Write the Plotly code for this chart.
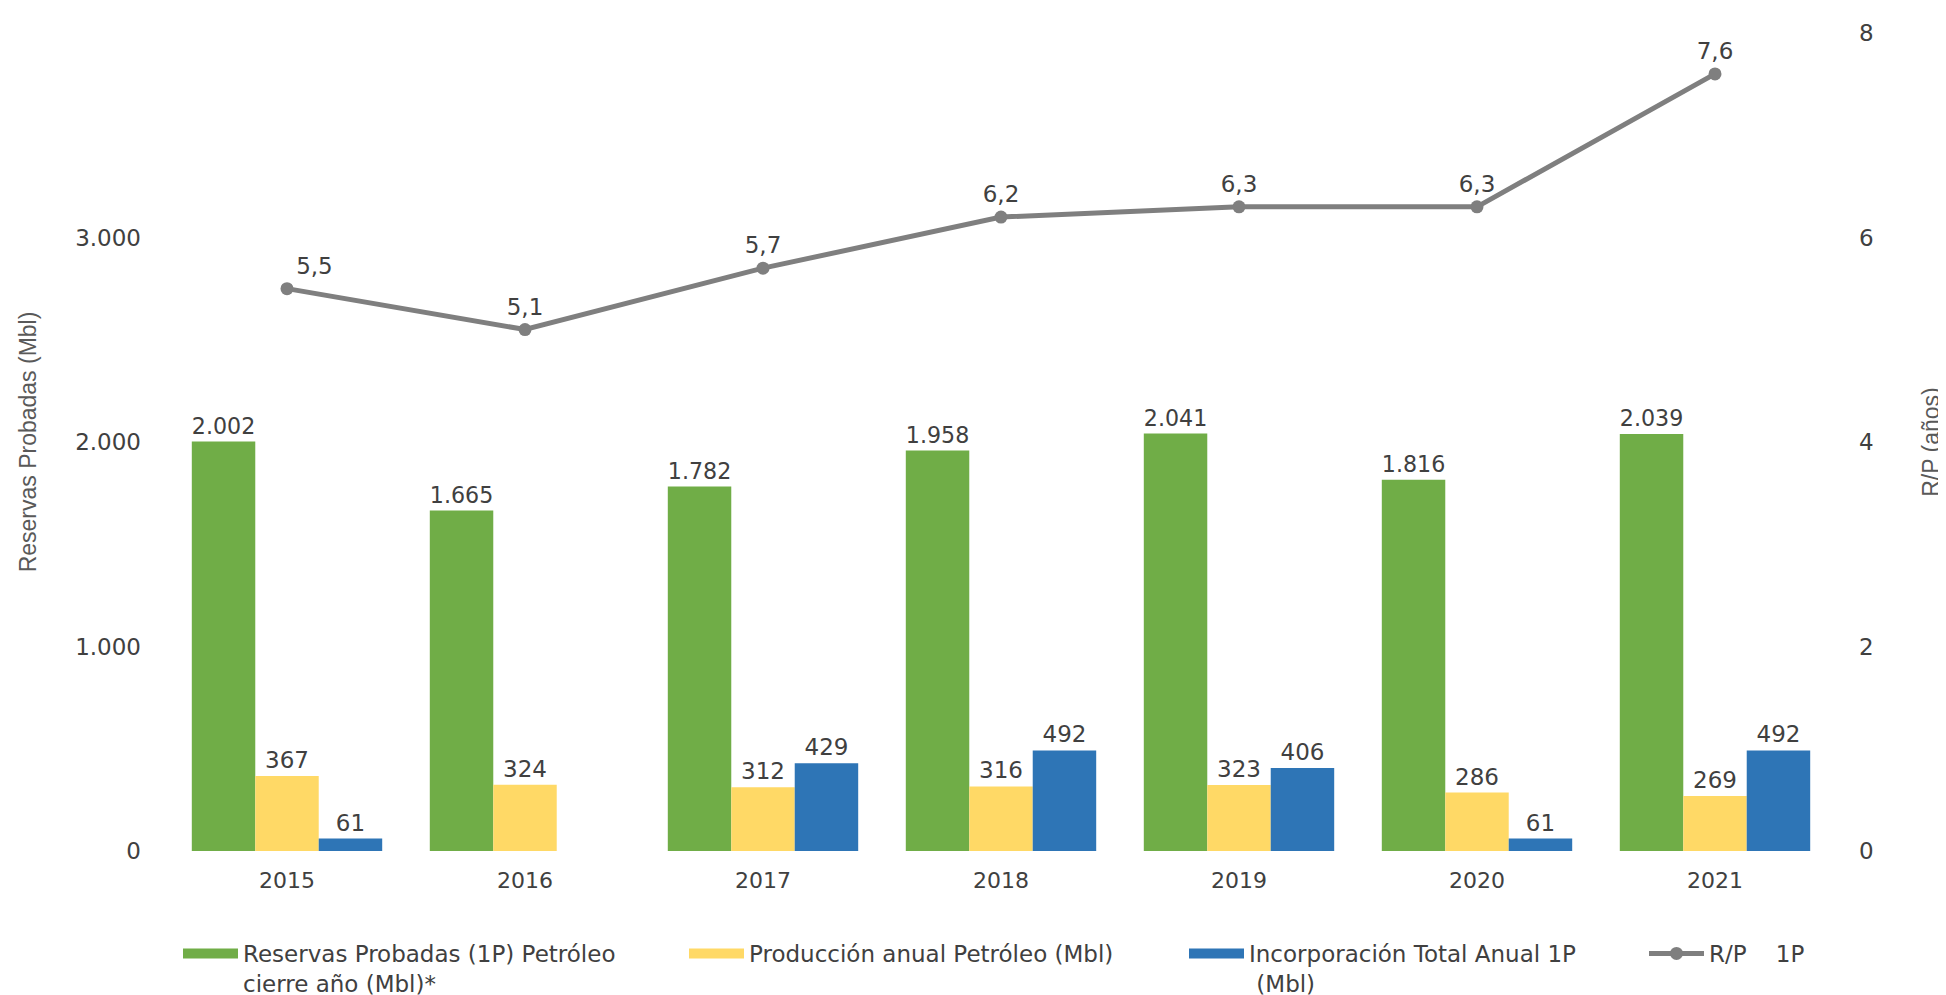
import plotly.graph_objects as go

# Datos (Mbl y años)
anios = ['2015', '2016', '2017', '2018', '2019', '2020', '2021']
reservas_1p = [2002, 1665, 1782, 1958, 2041, 1816, 2039]
produccion = [367, 324, 312, 316, 323, 286, 269]
incorporacion = [61, None, 429, 492, 406, 61, 492]
rp_1p = [5.5, 5.1, 5.7, 6.2, 6.3, 6.3, 7.6]

ticks_izq = [0, 1000, 2000, 3000]

nombres = [
    'Reservas Probadas (1P) Petróleo<br>cierre año (Mbl)*',
    'Producción anual Petróleo (Mbl)',
    'Incorporación Total Anual 1P<br>\u00a0(Mbl)',
    'R/P\u00a0\u00a0\u00a0\u00a01P',
]
colores = ['#70AD47', '#FFD966', '#2E75B6', '#7F7F7F']
leyendas = ['legend', 'legend2', 'legend3', 'legend4']
x_leyendas = [170, 676, 1176, 1636]  # px desde la izquierda

fuente = 'DejaVu Sans, Verdana, sans-serif'
fuente_titulo = 'Liberation Sans, Arial, sans-serif'
texto_color = '#404040'
tam = 23

fig = go.Figure()

for valores, nombre, color in zip([reservas_1p, produccion, incorporacion], nombres[:3], colores[:3]):
    fig.add_trace(go.Bar(
        x=anios,
        y=valores,
        name=nombre,
        marker=dict(color=color, line=dict(width=0)),
        texttemplate='%{y:,}',
        textposition='outside',
        textfont=dict(family=fuente, size=tam, color=texto_color),
        cliponaxis=False,
        showlegend=False,
        yaxis='y',
    ))

# posicion de etiquetas de la linea (la primera desplazada a la derecha)
pos_texto = ['top right'] + ['top center'] * (len(anios) - 1)

fig.add_trace(go.Scatter(
    x=anios,
    y=rp_1p,
    name=nombres[3],
    mode='lines+markers+text',
    line=dict(color=colores[3], width=5),
    marker=dict(color=colores[3], size=13),
    texttemplate='%{y:.1f}',
    textposition=pos_texto,
    textfont=dict(family=fuente, size=tam, color=texto_color),
    cliponaxis=False,
    showlegend=False,
    yaxis='y2',
))

# entradas de leyenda (rectangulos anchos como en el original)
for i in range(3):
    fig.add_trace(go.Scatter(
        x=[None], y=[None], mode='lines', name=nombres[i],
        line=dict(color=colores[i], width=10),
        legend=leyendas[i], hoverinfo='skip',
    ))
fig.add_trace(go.Scatter(
    x=[None], y=[None], mode='lines+markers', name=nombres[3],
    line=dict(color=colores[3], width=5),
    marker=dict(color=colores[3], size=13),
    legend=leyendas[3], hoverinfo='skip', yaxis='y2',
))

fig.update_layout(
    width=1946,
    height=995,
    separators=',.',
    barmode='group',
    bargap=0.2,
    bargroupgap=0,
    plot_bgcolor='white',
    paper_bgcolor='white',
    font=dict(family=fuente, size=tam, color=texto_color),
    margin=dict(l=160, r=120, t=23, b=152),
    xaxis=dict(
        showgrid=False, showline=False, zeroline=False,
        tickfont=dict(size=tam - 1, color=texto_color),
        ticklabelstandoff=14,
    ),
    yaxis=dict(
        range=[0, 4000],
        tickvals=ticks_izq,
        tickformat=',',
        showgrid=False, showline=False, zeroline=False,
        tickfont=dict(size=tam, color=texto_color),
        ticklabelstandoff=26,
        title=dict(text='Reservas Probadas (Mbl)',
                   font=dict(family=fuente_titulo, size=23, color='#595959'),
                   standoff=32),
    ),
    yaxis2=dict(
        range=[0, 8],
        dtick=2,
        overlaying='y',
        side='right',
        showgrid=False, showline=False, zeroline=False,
        tickfont=dict(size=tam, color=texto_color),
        ticklabelstandoff=24,
        title=dict(text='R/P (años)',
                   font=dict(family=fuente_titulo, size=23, color='#595959'),
                   standoff=50),
    ),
)

for ley, xl in zip(leyendas, x_leyendas):
    fig.update_layout({ley: dict(
        orientation='h',
        xref='container', yref='container',
        x=xl / 1946, xanchor='left',
        y=1 - 924 / 995, yanchor='top',
        itemwidth=55,
        valign='top',
        bgcolor='rgba(0,0,0,0)',
        font=dict(family=fuente, size=tam, color=texto_color),
    )})

fig.write_html('out.html')
